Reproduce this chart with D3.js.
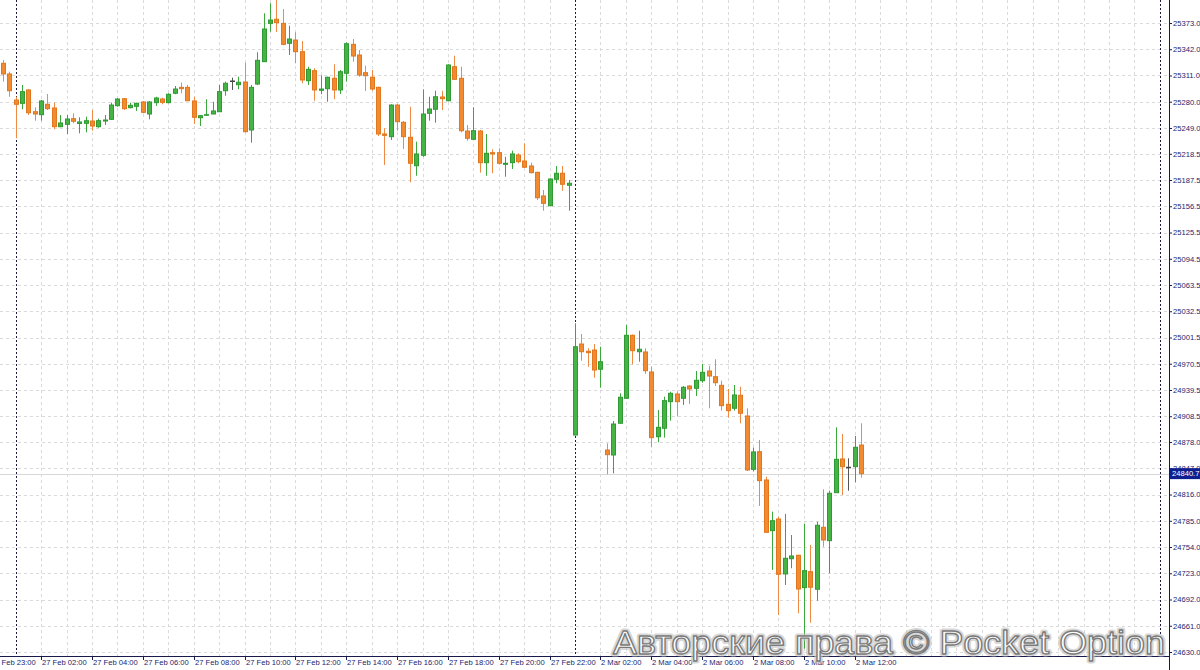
<!DOCTYPE html>
<html>
<head>
<meta charset="utf-8">
<script src="https://cdn.jsdelivr.net/npm/d3@7"></script>
<style>
  html, body { margin: 0; padding: 0; background: #ffffff; }
  svg { display: block; }
  text { font-family: "Liberation Sans", Arial, sans-serif; }
</style>
</head>
<body>
<div id="chart"></div>
<script>
// ---------------- DATA ----------------
const openVals = [
25325.4, 25312.8, 25282.0, 25278.1, 25293.9, 25268.2, 25264.7, 25277.0, 25272.6, 25250.5,
25253.3, 25260.0, 25254.3, 25254.5, 25257.2, 25250.5, 25257.2, 25259.2, 25275.3, 25283.6,
25273.0, 25274.6, 25279.7, 25265.5, 25278.9, 25283.2, 25278.9, 25290.0, 25297.0, 25297.0,
25280.9, 25261.1, 25264.0, 25265.5, 25268.2, 25293.0, 25304.5, 25300.1, 25303.3, 25246.6,
25300.9, 25327.3, 25372.6, 25377.4, 25372.6, 25349.0, 25352.9, 25339.1, 25304.8, 25316.7,
25293.5, 25295.4, 25307.7, 25293.9, 25313.6, 25347.8, 25335.2, 25314.3, 25308.9, 25297.0,
25241.9, 25238.7, 25276.1, 25255.7, 25238.0, 25204.4, 25216.7, 25266.3, 25271.1, 25285.6,
25281.2, 25321.4, 25307.7, 25245.4, 25235.6, 25245.4, 25208.0, 25219.8, 25219.8, 25206.1,
25208.0, 25217.1, 25210.0, 25204.1, 25196.6, 25168.7, 25157.2, 25188.4, 25195.5, 25181.3,
24886.3, 24993.8, 24985.2, 24986.7, 24964.0, 24868.6, 24862.7, 24900.2, 24929.7, 25004.1,
24984.7, 24984.4, 24960.8, 24884.3, 24894.3, 24925.7, 24934.8, 24929.7, 24944.2, 24941.5,
24950.5, 24961.9, 24955.2, 24945.0, 24922.6, 24917.9, 24933.2, 24908.8, 24845.8, 24866.6,
24833.2, 24773.3, 24787.1, 24722.2, 24740.2, 24744.2, 24706.0, 24724.9, 24704.1, 24777.3,
24761.5, 24818.2, 24858.0, 24848.2, 24848.9, 24874.5
];
const highVals = [
25329.3, 25315.5, 25285.9, 25299.8, 25294.7, 25273.4, 25282.0, 25289.1, 25278.9, 25264.3,
25264.3, 25266.3, 25261.6, 25262.3, 25270.2, 25260.0, 25264.3, 25278.9, 25284.4, 25284.4,
25278.9, 25278.9, 25280.9, 25280.9, 25285.9, 25284.8, 25290.0, 25298.6, 25302.5, 25299.8,
25285.9, 25264.3, 25282.9, 25280.0, 25299.8, 25303.7, 25308.4, 25309.6, 25326.1, 25299.8,
25338.4, 25384.5, 25396.3, 25402.5, 25389.5, 25369.8, 25362.0, 25351.7, 25321.4, 25319.5,
25311.2, 25309.6, 25324.2, 25317.5, 25350.2, 25354.1, 25341.1, 25322.6, 25317.5, 25297.8,
25248.6, 25277.0, 25277.3, 25257.2, 25274.1, 25232.8, 25294.7, 25285.9, 25293.0, 25293.0,
25324.2, 25334.4, 25321.4, 25252.5, 25273.4, 25246.6, 25241.9, 25223.8, 25225.0, 25215.1,
25222.2, 25219.1, 25230.9, 25208.0, 25197.4, 25175.7, 25189.5, 25204.1, 25204.1, 25187.6,
25018.3, 25005.6, 24988.8, 24993.8, 24990.6, 24876.5, 24902.9, 24935.6, 25016.3, 25005.0,
25009.5, 24988.8, 24967.0, 24915.9, 24931.6, 24937.5, 24937.5, 24944.2, 24945.4, 24961.9,
24970.2, 24968.2, 24975.8, 24950.5, 24940.7, 24945.4, 24943.4, 24917.9, 24871.6, 24880.4,
24837.1, 24795.8, 24789.8, 24793.0, 24768.2, 24745.0, 24781.2, 24756.4, 24783.9, 24822.2,
24820.6, 24895.4, 24887.5, 24858.8, 24885.2, 24900.2
];
const lowVals = [
25303.7, 25285.9, 25236.8, 25271.1, 25264.3, 25257.6, 25257.6, 25270.2, 25247.4, 25250.0,
25241.9, 25254.5, 25242.7, 25243.9, 25245.8, 25249.3, 25252.5, 25258.4, 25274.1, 25270.2,
25272.2, 25269.1, 25266.3, 25259.2, 25275.0, 25277.0, 25278.1, 25288.8, 25290.0, 25280.8,
25253.7, 25251.3, 25263.5, 25265.2, 25268.0, 25287.1, 25293.9, 25294.7, 25244.0, 25231.6,
25299.8, 25327.0, 25362.7, 25362.4, 25346.7, 25335.2, 25325.4, 25301.8, 25299.8, 25281.2,
25288.8, 25280.0, 25282.9, 25289.1, 25303.7, 25327.3, 25309.6, 25292.7, 25293.0, 25239.5,
25205.3, 25234.8, 25245.8, 25224.2, 25184.8, 25192.6, 25215.1, 25257.6, 25255.2, 25270.2,
25280.5, 25305.7, 25243.9, 25234.0, 25235.0, 25196.2, 25192.6, 25195.5, 25206.1, 25191.4,
25200.5, 25207.3, 25202.0, 25195.5, 25163.9, 25151.3, 25157.0, 25183.7, 25174.9, 25151.3,
24886.0, 24974.1, 24967.0, 24954.0, 24942.2, 24839.9, 24841.1, 24900.0, 24929.5, 24969.8,
24972.9, 24958.4, 24871.8, 24877.7, 24883.2, 24903.2, 24908.8, 24921.8, 24923.0, 24932.4,
24948.1, 24917.9, 24944.2, 24915.1, 24906.8, 24915.1, 24900.2, 24843.8, 24843.2, 24802.5,
24771.0, 24726.9, 24673.7, 24709.2, 24728.9, 24675.7, 24634.0, 24664.6, 24690.6, 24754.4,
24723.0, 24818.0, 24815.5, 24820.6, 24830.5, 24835.9
];
const closeVals = [
25312.8, 25293.0, 25277.0, 25291.9, 25267.0, 25265.5, 25280.9, 25271.8, 25250.5, 25254.9,
25259.6, 25256.9, 25256.1, 25257.6, 25251.3, 25257.6, 25258.4, 25276.1, 25283.2, 25271.8,
25275.8, 25278.1, 25267.5, 25279.7, 25284.4, 25279.3, 25288.8, 25295.0, 25295.4, 25281.2,
25261.6, 25263.5, 25264.7, 25269.1, 25291.9, 25301.8, 25304.5, 25303.0, 25244.6, 25297.0,
25328.9, 25365.9, 25376.5, 25373.4, 25347.8, 25354.1, 25339.1, 25305.7, 25318.3, 25293.9,
25295.0, 25308.9, 25293.9, 25315.5, 25348.5, 25334.0, 25311.6, 25310.8, 25295.0, 25241.9,
25240.3, 25276.1, 25256.4, 25238.7, 25207.3, 25218.3, 25265.5, 25271.4, 25285.9, 25283.6,
25323.4, 25306.5, 25245.8, 25236.8, 25245.8, 25208.0, 25219.1, 25218.3, 25207.3, 25207.3,
25218.3, 25209.2, 25202.6, 25196.2, 25166.6, 25160.0, 25188.7, 25195.5, 25182.5, 25183.7,
24990.6, 24984.7, 24983.6, 24963.1, 24972.9, 24863.1, 24899.3, 24930.9, 25004.1, 24985.9,
24987.6, 24962.3, 24883.2, 24895.4, 24926.9, 24935.6, 24925.7, 24942.7, 24940.7, 24951.0,
24960.4, 24956.0, 24948.1, 24921.0, 24915.1, 24933.6, 24912.0, 24845.0, 24866.3, 24832.4,
24771.4, 24785.1, 24721.8, 24740.7, 24743.4, 24704.4, 24726.1, 24706.5, 24779.7, 24762.3,
24817.5, 24857.6, 24848.9, 24848.2, 24871.8, 24840.7
];

const priceTicks = [25373.0, 25342.0, 25311.0, 25280.0, 25249.0, 25218.5, 25187.5, 25156.5,
  25125.5, 25094.5, 25063.5, 25032.5, 25001.5, 24970.5, 24939.5, 24908.5, 24878.0, 24847.0,
  24816.0, 24785.0, 24754.0, 24723.0, 24692.0, 24661.0, 24630.0];

const timeLabels = ["26 Feb 23:00", "27 Feb 02:00", "27 Feb 04:00", "27 Feb 06:00", "27 Feb 08:00",
  "27 Feb 10:00", "27 Feb 12:00", "27 Feb 14:00", "27 Feb 16:00", "27 Feb 18:00", "27 Feb 20:00",
  "27 Feb 22:00", "2 Mar 02:00", "2 Mar 04:00", "2 Mar 06:00", "2 Mar 08:00", "2 Mar 10:00", "2 Mar 12:00"];
const timeLabelBars = [-2, 6, 14, 22, 30, 38, 46, 54, 62, 70, 78, 86, 94, 102, 110, 118, 126, 134];
const separatorBars = [2, 90, 182];   // period separators (dotted)
const currentPrice = 24840.7;
const watermark = "Авторские права © Pocket Option";

// ---------------- LAYOUT ----------------
const W = 1200, H = 670;
const plotRight = 1169, plotBottom = 656;

const svg = d3.select("#chart").append("svg")
  .attr("width", W).attr("height", H);

const x = d3.scaleLinear().domain([0, 135]).range([3, 861.1]);
const y = d3.scaleLinear().domain([24630, 25373]).range([652, 23]);

const candles = openVals.map((o, i) => ({
  i, o, h: highVals[i], l: lowVals[i], c: closeVals[i]
}));

svg.append("defs").append("clipPath").attr("id", "clip")
  .append("rect").attr("x", 0).attr("y", 0).attr("width", plotRight).attr("height", plotBottom);
const plot = svg.append("g").attr("clip-path", "url(#clip)");

// horizontal grid
plot.selectAll("line.hgrid").data(priceTicks).join("line")
  .attr("class", "hgrid")
  .attr("x1", 0).attr("x2", plotRight)
  .attr("y1", d => Math.round(y(d)) + 0.5).attr("y2", d => Math.round(y(d)) + 0.5)
  .attr("stroke", "#dadada").attr("stroke-dasharray", "3,3").attr("stroke-width", 1);

// vertical grid every 4 bars
const vgridBars = d3.range(-2, 185, 4).filter(b => !separatorBars.includes(b));
plot.selectAll("line.vgrid").data(vgridBars).join("line")
  .attr("class", "vgrid")
  .attr("x1", d => Math.round(x(d)) + 0.5).attr("x2", d => Math.round(x(d)) + 0.5)
  .attr("y1", 0).attr("y2", plotBottom)
  .attr("stroke", "#dadada").attr("stroke-dasharray", "3,3").attr("stroke-width", 1);

// period separators (under the candles)
plot.selectAll("line.sep").data(separatorBars).join("line")
  .attr("class", "sep")
  .attr("x1", d => Math.round(x(d)) + 0.5).attr("x2", d => Math.round(x(d)) + 0.5)
  .attr("y1", 0).attr("y2", plotBottom)
  .attr("stroke", "#1c1c3c").attr("stroke-dasharray", "2,2").attr("stroke-width", 1);

// current price line
plot.append("line")
  .attr("x1", 0).attr("x2", plotRight)
  .attr("y1", Math.round(y(currentPrice)) + 0.5).attr("y2", Math.round(y(currentPrice)) + 0.5)
  .attr("stroke", "#d8d8d8").attr("stroke-width", 1);

// candles
const colorOf = d => d.c > d.o ? "bull" : (d.c < d.o ? "bear" : "doji");
const fillC = { bull: "#45b445", bear: "#f28a30", doji: "#555555" };
const strokeC = { bull: "#2f9a34", bear: "#e0761e", doji: "#444444" };
const wickC = { bull: "#3aa83a", bear: "#ee8a44", doji: "#555555" };

const cg = plot.selectAll("g.candle").data(candles).join("g").attr("class", "candle");
cg.append("line")
  .attr("x1", d => Math.round(x(d.i)) + 0.5).attr("x2", d => Math.round(x(d.i)) + 0.5)
  .attr("y1", d => y(d.h)).attr("y2", d => y(d.l))
  .attr("stroke", d => wickC[colorOf(d)]).attr("stroke-width", 1);
cg.append("rect")
  .attr("x", d => Math.round(x(d.i)) - 1.5)
  .attr("width", 4)
  .attr("y", d => y(Math.max(d.o, d.c)))
  .attr("height", d => Math.max(0.5, Math.abs(y(d.o) - y(d.c))))
  .attr("fill", d => fillC[colorOf(d)])
  .attr("stroke", d => strokeC[colorOf(d)])
  .attr("stroke-width", 1);

// axes lines
svg.append("line").attr("x1", plotRight + 0.5).attr("x2", plotRight + 0.5)
  .attr("y1", 0).attr("y2", H).attr("stroke", "#1a1a4a").attr("stroke-width", 1);
svg.append("line").attr("x1", 0).attr("x2", plotRight)
  .attr("y1", plotBottom + 0.5).attr("y2", plotBottom + 0.5).attr("stroke", "#1a1a4a").attr("stroke-width", 1);

// price axis via d3.axisRight
const yAxis = d3.axisRight(y).tickValues(priceTicks).tickSize(3).tickPadding(1)
  .tickFormat(d3.format(".1f"));
const yAxisG = svg.append("g").attr("transform", `translate(${plotRight},0)`).call(yAxis);
yAxisG.select(".domain").remove();
yAxisG.selectAll(".tick line").attr("stroke", "#1a1a4a");
yAxisG.selectAll(".tick text").attr("fill", "#23236e")
  .style("font-family", "'Liberation Sans', Arial, sans-serif").style("font-size", "7.6px");

// time axis
const timeG = svg.append("g");
const tl = timeG.selectAll("g.tl").data(timeLabelBars.map((b, k) => ({ b, t: timeLabels[k] })))
  .join("g").attr("class", "tl");
tl.append("line")
  .attr("x1", d => Math.round(x(d.b)) + 0.5).attr("x2", d => Math.round(x(d.b)) + 0.5)
  .attr("y1", plotBottom).attr("y2", plotBottom + 4)
  .attr("stroke", "#1a1a4a");
tl.append("text")
  .attr("x", d => Math.round(x(d.b)) + 1)
  .attr("y", 665)
  .attr("fill", "#23236e")
  .style("font-size", "7.6px")
  .text(d => d.t);

// current price label
const py = y(currentPrice);
svg.append("rect").attr("x", plotRight + 1).attr("y", py - 5.5).attr("width", W - plotRight - 1).attr("height", 11)
  .attr("fill", "#0f1f8f");
svg.append("text").attr("x", plotRight + 3).attr("y", py + 2.8)
  .attr("fill", "#ffffff").style("font-size", "7.6px").text(d3.format(".1f")(currentPrice));

// watermark
const wm = svg.append("g");
wm.append("text").attr("x", 613).attr("y", 654)
  .attr("textLength", 552).attr("lengthAdjust", "spacingAndGlyphs")
  .style("font-size", "33px")
  .attr("fill", "none").attr("stroke", "#c8c8c8").attr("stroke-width", 5)
  .attr("stroke-linejoin", "round").attr("opacity", 0.7)
  .text(watermark);
wm.append("text").attr("x", 613).attr("y", 654)
  .attr("textLength", 552).attr("lengthAdjust", "spacingAndGlyphs")
  .style("font-size", "33px")
  .attr("fill", "#ffffff").attr("stroke", "#7a7a7a").attr("stroke-width", 1.3)
  .attr("stroke-linejoin", "round")
  .text(watermark);
</script>
</body>
</html>
